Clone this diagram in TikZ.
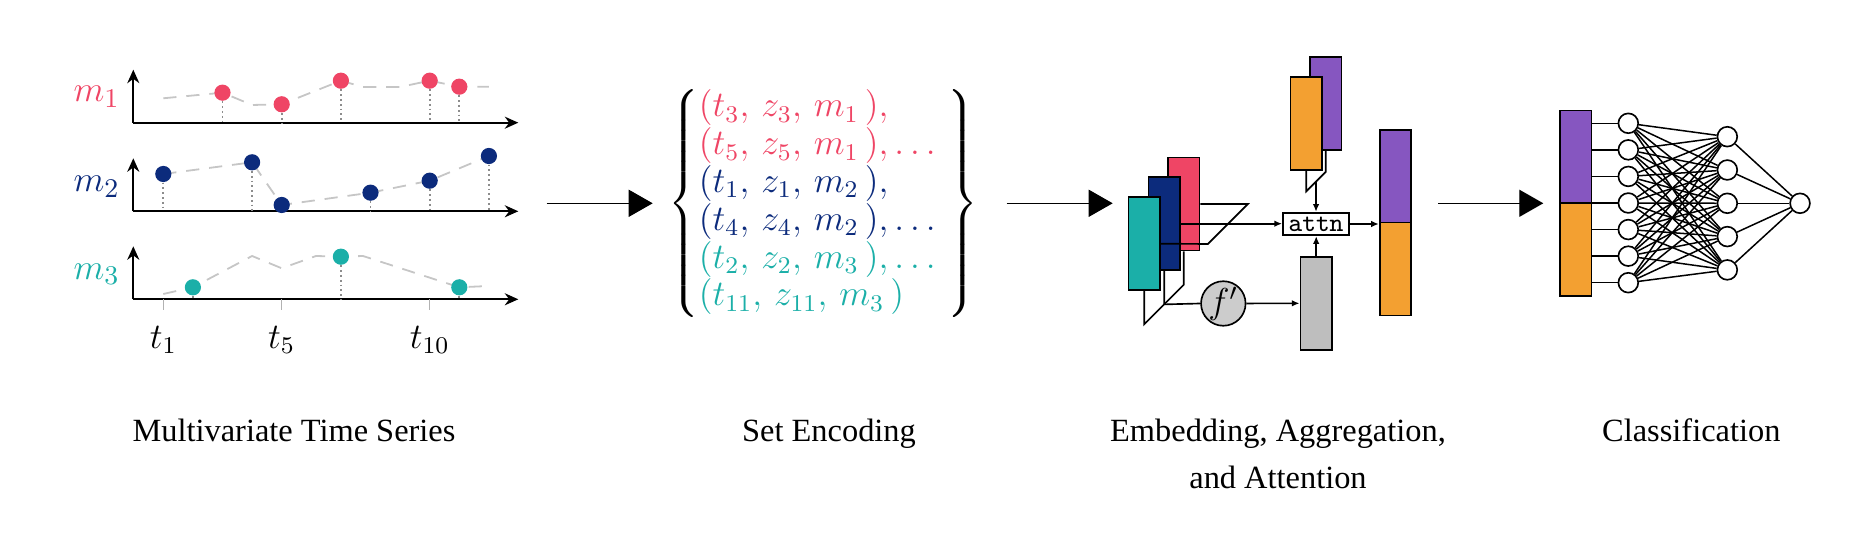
\documentclass[tikz,border=0pt]{standalone}
\usepackage{amsmath, amssymb}
\usepackage{tikz}
\usetikzlibrary{arrows.meta}
\usepackage[no-math]{fontspec}
\newfontfamily\capfont{Liberation Serif}

\definecolor{mred}{HTML}{EF4565}
\definecolor{mblue}{HTML}{0C2B7C}
\definecolor{mteal}{HTML}{1BAFA8}
\definecolor{mpurple}{HTML}{8656C0}
\definecolor{morange}{HTML}{F3A031}
\definecolor{mgray}{HTML}{BEBEBE}

\begin{document}
\begin{tikzpicture}[x=0.3333pt, y=-0.3333pt, font=\fontsize{12}{14}\selectfont]
  \useasboundingbox (0,0) rectangle (1862,548);

  \tikzset{axis arc/.style={-{Stealth[length=4.5pt,width=4pt]}, black, line width=0.7pt}}
  \tikzset{trace/.style={gray!45, line width=0.6pt, dash pattern=on 4.4pt off 3.3pt}}
  \tikzset{stem/.style={gray!90, densely dotted, line width=0.6pt}}

  % multivariate time series
  \coordinate (ax1) at (133.3,122.7);
  \coordinate (ax2) at (133.3,211.3);
  \coordinate (ax3) at (133.3,299.3);
  \foreach \a in {ax1,ax2,ax3} {
    \draw[axis arc] (\a) -- ++(385,0);
    \draw[axis arc] (\a) -- ++(0,-53);
  }

  \tikzset{mlabel/.style={anchor=base, font=\fontsize{12.8}{14}\selectfont}}
  \node[mlabel, text=mred] (lm1) at (96.7,101.7) {$m_1$};
  \node[mlabel, text=mblue] (lm2) at (96.7,191.7) {$m_2$};
  \node[mlabel, text=mteal] (lm3) at (96.7,279.3) {$m_3$};

  \foreach \k/\x in {1/163.3, 5/281.7, 10/429.7} {
    \draw[gray!60, line width=0.5pt] (\x,299.3) -- (\x,310);
    \node[anchor=base] (t\k) at (\x,348.3) {$t_{\k}$};
  }

  \draw[trace] (163.3,98.3) -- (222.5,92.7) -- (252.1,105) -- (281.7,104.3) -- (340.9,80.7)
    -- (363,87) -- (400,87) -- (429.7,80.7) -- (459.3,86.7) -- (488.9,86.7);
  \draw[trace] (163.3,174) -- (252.1,162.3) -- (281.7,205) -- (370.5,192.7) -- (429.7,180.7)
    -- (488.9,156);
  \draw[trace] (163.3,294) -- (192.9,287.3) -- (252.1,256) -- (281.7,268.3) -- (316,256)
    -- (340.9,256.7) -- (363,256) -- (459.3,287.3) -- (488.9,286);

  \begin{scope}[every node/.style={circle, minimum size=5.4pt, inner sep=0}]
      \node[fill=mred] (r3) at (222.5,92.7) {};
      \node[fill=mred] (r5) at (281.7,104.3) {};
      \node[fill=mred] (r7) at (340.9,80.7) {};
      \node[fill=mred] (r10) at (429.7,80.7) {};
      \node[fill=mred] (r11) at (459.3,86.7) {};

      \node[fill=mblue] (b1) at (163.3,174) {};
      \node[fill=mblue] (b4) at (252.1,162.3) {};
      \node[fill=mblue] (b5) at (281.7,205) {};
      \node[fill=mblue] (b8) at (370.5,192.7) {};
      \node[fill=mblue] (b10) at (429.7,180.7) {};
      \node[fill=mblue] (b12) at (488.9,156) {};

      \node[fill=mteal] (c2) at (192.9,287.3) {};
      \node[fill=mteal] (c7) at (340.9,256.7) {};
      \node[fill=mteal] (c11) at (459.3,287.3) {};
  \end{scope}

  \foreach \d in {r3,r5,r7,r10,r11} \draw[stem] (\d) -- (\d |- ax1);
  \foreach \d in {b1,b4,b8,b10,b12} \draw[stem] (\d) -- (\d |- ax2);
  \foreach \d in {c2,c7,c11} \draw[stem] (\d) -- (\d |- ax3);

  % stage arrows
  \tikzset{stage arc/.style={-{Triangle[length=8pt,width=9pt]}, black, line width=0.45pt}}
  \coordinate (s1) at (546.7,203.3);  \coordinate (e1) at (652.7,203.3);
  \coordinate (s2) at (1006.7,203.3); \coordinate (e2) at (1112.7,203.3);
  \coordinate (s3) at (1438.3,203.3); \coordinate (e3) at (1543.3,203.3);
  \draw[stage arc] (s1) -- (e1);
  \draw[stage arc] (s2) -- (e2);
  \draw[stage arc] (s3) -- (e3);

  % set encoding
  \node[font=\fontsize{11.5}{12}\selectfont, inner sep=0] (set) at (823,203.3)
    {$\left\{\begin{array}{@{}l@{\ }}
      \color{mred}(t_3,\, z_3,\, m_1\,), \\
      \color{mred}(t_5,\, z_5,\, m_1\,), \ldots \\
      \color{mblue}(t_1,\, z_1,\, m_2\,), \\
      \color{mblue}(t_4,\, z_4,\, m_2\,), \ldots \\
      \color{mteal}(t_2,\, z_2,\, m_3\,), \ldots \\
      \color{mteal}(t_{11},\, z_{11},\, m_3\,)
    \end{array}\right\}$};

  % embedding, aggregation and attention
  \tikzset{vec/.style={draw, line width=0.6pt, minimum width=10.5pt, minimum height=31pt, inner sep=0}}
  \tikzset{thin arc/.style={-{Latex[length=2.6pt,width=2.2pt]}, black, line width=0.55pt}}
  \tikzset{plane/.style={black, line width=0.55pt}}

  \node[vec, fill=mred] (er) at (1183.8,204) {};
  \node[vec, fill=mblue] (eb) at (1164.2,223.7) {};
  \node[vec, fill=mteal] (et) at (1144.2,243.7) {};

  \node[vec, fill=mpurple] (q2) at (1325.8,103.7) {};
  \node[vec, fill=morange] (q1) at (1306.2,123.3) {};

  \node[vec, fill=mgray] (g) at (1316.2,303.3) {};
  \node[circle, draw, fill=gray!40, line width=0.55pt, minimum size=13.8pt, inner sep=0] (fp) at (1223.3,303.5) {$f'$};
  \node[draw, fill=white, line width=0.6pt, minimum width=22pt, minimum height=7.5pt, inner sep=0,
        font=\ttfamily\fontsize{8.7}{9}\selectfont] (attn) at (1316,224) {attn};

  \node[vec, fill=mpurple] (z1) at (1395.5,176.3) {};
  \node[vec, fill=morange] (z2) at (1395.5,269) {};

  \draw[plane] (er.east) -- ++(47.4,0) -- ++(-40,40) -- (et.east);
  \draw[plane] (er.south) -- ++(0,33.3) -- ++(-39.6,39.6) -- (et.south);
  \draw[plane] (eb.south) -- ++(0,33.3) -- (fp.west);
  \draw[plane] (q2.south) -- ++(0,20.7) -- ++(-9.8,9.8) coordinate (qm) -- ++(-9.8,9.8) -- (q1.south);

  \draw[thin arc] (eb.east) -- (eb.east -| attn.west);
  \draw[thin arc] (qm) -- (qm |- attn.north);
  \draw[thin arc] (g.north) -- (g.north |- attn.south);
  \draw[thin arc] (fp) -- (g);
  \draw[thin arc] (attn.east) -- (attn.east -| z1.west);

  % classification
  \tikzset{neuron/.style={circle, draw, fill=white, line width=0.55pt, minimum size=6.6pt, inner sep=0}}
  \tikzset{net/.style={black, line width=0.5pt}}

  \node[vec, fill=mpurple] (k1) at (1575.7,157) {};
  \node[vec, fill=morange] (k2) at (1575.7,249.7) {};

  \foreach \i in {1,...,7} \node[neuron] (i\i) at (1628.3,{123.3+(\i-1)*26.57}) {};
  \foreach \j in {1,...,5} \node[neuron] (h\j) at (1727.3,{136.7+(\j-1)*33.3}) {};
  \node[neuron] (out) at (1800,203.3) {};

  \foreach \i in {1,...,7} \draw[net] (k1.east |- i\i) -- (i\i);
  \foreach \i in {1,...,7} \foreach \j in {1,...,5} \draw[net] (i\i) -- (h\j);
  \foreach \j in {1,...,5} \draw[net] (h\j) -- (out);

  % captions
  \tikzset{caption/.style={font=\capfont\fontsize{10.8}{15.6}\selectfont, anchor=base, align=center}}
  \node[caption] (cap1) at (294,441.7) {Multivariate Time Series};
  \node[caption] (cap2) at (829,441.7) {Set Encoding};
  \node[caption] (cap3) at (1278,488.3) {Embedding, Aggregation,\\and Attention};
  \node[caption] (cap4) at (1691.3,441.7) {Classification};

\end{tikzpicture}
\end{document}
